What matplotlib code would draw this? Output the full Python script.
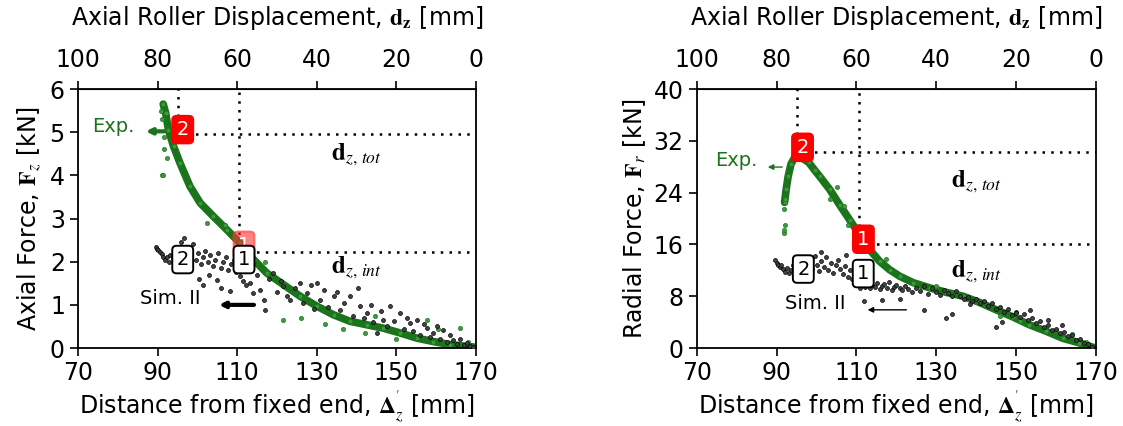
import matplotlib
matplotlib.use("Agg")
import matplotlib.pyplot as plt

plt.rcParams['mathtext.fontset'] = 'stix'
plt.rcParams['font.family'] = 'DejaVu Sans'

# ---- data ----
# left panel: axial force
exp_ax_dist = [91.4, 92.0, 92.7, 94.0, 95.6, 98.1, 100.7, 104.0, 107.4, 110.7, 114.1,
               117.4, 121.6, 125.8, 130.0, 134.2, 138.3, 142.5, 146.7, 150.9, 155.1,
               159.3, 163.5, 169.7]
exp_ax_force = [5.65, 5.45, 5.06, 4.67, 4.29, 3.75, 3.36, 3.05, 2.74, 2.43, 2.05,
                1.74, 1.47, 1.20, 0.97, 0.77, 0.62, 0.54, 0.46, 0.35, 0.23,
                0.15, 0.08, 0.02]
exp_ax_out_dist = [91.0, 91.3, 91.5, 91.7, 91.2, 90.9, 92.3, 102.5, 106.8, 117.0, 121.6,
                   126.0, 132.0, 142.0, 150.0, 157.6, 160.5, 166.0, 168.0, 144.5, 136.5]
exp_ax_out_force = [4.00, 4.02, 4.60, 4.90, 5.30, 5.50, 4.40, 2.90, 2.85, 2.00, 0.66,
                    0.70, 0.55, 0.35, 0.20, 0.66, 0.45, 0.46, 0.15, 0.75, 0.45]
sim_ax_dist = [89.5, 89.8, 90.2, 90.6, 91.0, 91.4, 91.8, 92.3, 92.8, 93.2, 93.8, 94.3,
               95.0, 95.8, 96.5, 97.2, 97.8, 98.4, 99.0, 99.6, 100.2, 100.8, 101.4,
               102.0, 102.6, 103.2, 103.8, 104.5, 105.2, 105.8, 106.5, 107.2, 107.8,
               108.5, 109.2, 109.8, 100.5, 101.5, 103.0, 104.8, 106.0, 108.2, 110.7,
               111.5, 112.3, 113.2, 114.0, 115.0, 115.8, 116.6, 117.0, 118.0, 119.1,
               120.0, 121.0, 121.6, 122.5, 123.3, 124.5, 125.8, 126.5, 127.5, 128.5,
               129.3, 130.0, 130.8, 131.8, 132.8, 134.2, 135.0, 135.8, 136.8, 138.3,
               139.2, 140.4, 140.9, 141.8, 142.5, 143.5, 144.2, 145.0, 146.0, 146.7,
               147.6, 148.4, 149.5, 150.9, 151.8, 152.6, 153.4, 154.2, 155.1, 156.0,
               156.8, 157.6, 158.5, 159.3, 160.2, 161.0, 161.8, 162.8, 163.5, 164.3,
               165.2, 166.0, 167.0, 167.7, 168.5, 169.3]
sim_ax_force = [2.35, 2.30, 2.28, 2.22, 2.18, 2.12, 2.05, 2.10, 2.00, 2.15, 2.08, 2.20,
                2.30, 2.45, 2.55, 2.25, 2.35, 2.15, 2.40, 2.05, 2.20, 1.95, 2.10,
                2.25, 2.00, 2.15, 1.90, 2.05, 2.20, 1.85, 2.00, 2.10, 1.80,
                1.95, 2.05, 1.75, 1.60, 1.45, 1.70, 1.58, 1.40, 1.31, 1.66,
                1.55, 1.45, 1.50, 1.27, 1.70, 1.35, 1.12, 0.89, 1.60, 1.74,
                1.30, 1.55, 1.43, 1.20, 1.12, 1.40, 1.50, 1.05, 1.27, 1.45,
                0.90, 1.50, 1.12, 1.35, 0.95, 1.20, 1.30, 0.89, 1.05, 1.20,
                0.75, 1.39, 0.97, 0.70, 0.81, 1.00, 0.60, 0.35, 0.85, 0.66,
                0.50, 0.97, 0.62, 0.81, 0.45, 0.70, 0.58, 0.40, 0.66, 0.30,
                0.55, 0.46, 0.25, 0.35, 0.52, 0.20, 0.42, 0.15, 0.30, 0.19,
                0.10, 0.22, 0.08, 0.12, 0.04, 0.03]

# right panel: radial force
exp_rad_dist = [92.0, 92.4, 92.9, 93.6, 94.5, 95.5, 96.7, 98.0, 99.5, 100.8, 103.3,
                105.8, 108.3, 110.8, 113.3, 115.8, 118.3, 120.8, 124.2, 128.3, 132.5,
                136.7, 140.8, 145.0, 149.2, 153.3, 157.5, 161.7, 165.8, 169.8]
exp_rad_force = [22.5, 24.5, 26.5, 28.4, 29.4, 29.6, 29.2, 28.7, 27.5, 26.5, 24.5,
                 22.1, 19.8, 17.5, 15.2, 13.4, 12.1, 11.1, 10.1, 9.3, 8.6,
                 8.0, 7.05, 5.9, 4.8, 3.6, 2.6, 1.5, 0.8, 0.0]
exp_rad_out_dist = [91.8, 91.9, 92.1, 91.9, 92.2, 103.5, 105.2, 107.0, 108.0, 117.5,
                    146.0, 160.0, 164.0, 167.5, 130.0, 151.0]
exp_rad_out_force = [17.8, 18.2, 19.0, 21.5, 23.0, 23.0, 24.8, 22.0, 19.0, 13.8,
                     5.0, 2.8, 2.1, 1.0, 9.6, 4.2]
sim_rad_dist = [89.6, 90.0, 90.4, 90.8, 91.2, 91.6, 92.0, 92.5, 93.0, 93.5, 94.0, 94.6,
                95.2, 95.8, 96.5, 97.0, 97.6, 98.2, 98.8, 99.5, 100.0, 100.6, 101.2,
                101.8, 102.4, 103.0, 103.6, 104.2, 104.8, 105.5, 106.0, 106.6, 107.2,
                107.8, 108.4, 109.0, 109.8, 110.5, 111.0, 111.6, 112.2, 112.8, 113.4,
                114.0, 114.6, 115.2, 115.8, 116.4, 117.0, 117.6, 118.2, 118.8, 119.4,
                120.0, 120.8, 121.5, 122.2, 123.0, 124.0, 125.0, 126.0, 127.0, 128.0,
                129.0, 130.0, 131.0, 132.0, 133.0, 134.0, 135.0, 136.0, 137.0, 138.0,
                139.0, 140.0, 141.0, 142.0, 143.0, 144.0, 145.0, 146.0, 147.0, 148.0,
                149.0, 150.0, 151.0, 152.0, 153.0, 154.0, 155.0, 156.0, 157.0, 158.0,
                159.0, 160.0, 161.0, 162.0, 163.0, 164.0, 165.0, 166.0, 167.0, 168.0,
                169.0, 112.0, 116.5, 121.0, 127.0, 132.5, 134.0, 138.5, 145.0, 150.0,
                153.5, 158.0, 161.5, 146.5, 101.0, 107.5]
sim_rad_force = [13.6, 13.2, 12.9, 12.5, 12.8, 12.2, 11.8, 12.4, 11.6, 12.0, 12.8, 13.5,
                 11.9, 12.6, 13.9, 12.3, 11.4, 13.0, 12.2, 14.2, 12.8, 11.9, 13.4,
                 12.5, 14.0, 12.0, 13.2, 11.6, 12.9, 13.6, 12.2, 11.4, 12.7,
                 11.0, 12.0, 10.6, 10.2, 9.8, 9.3, 9.9, 9.5, 10.1, 9.2,
                 9.7, 9.4, 10.0, 9.1, 9.6, 9.9, 9.3, 10.2, 9.0, 9.5,
                 9.8, 9.2, 8.9, 9.6, 9.1, 8.6, 9.2, 8.8, 9.6, 8.4,
                 9.3, 8.7, 8.2, 9.0, 8.5, 8.0, 8.8, 8.1, 7.6, 7.9,
                 7.2, 7.6, 6.9, 7.3, 6.5, 6.9, 6.0, 6.4, 5.6, 6.0,
                 5.1, 5.5, 4.8, 5.2, 4.3, 4.6, 3.9, 4.2, 3.3, 3.6,
                 2.8, 3.0, 2.3, 2.5, 1.8, 2.0, 1.3, 1.4, 0.8, 0.6,
                 0.2, 7.2, 7.4, 7.6, 5.9, 4.6, 5.3, 6.8, 3.3, 5.4,
                 5.8, 4.4, 3.6, 4.0, 14.8, 14.4]

dist_ticks = [70, 90, 110, 130, 150, 170]
disp_ticks = [100, 80, 60, 40, 20, 0]

exp_green = '#1b741b'
FS = 17


def draw_panel(ax, ed, ef, eod, eof, sd, sf, yticks, ylabel, guides, boxes, labels, thick):
    ax.plot(ed, ef, color=exp_green, lw=5.5, solid_capstyle='round', zorder=2)
    ax.scatter(ed, ef, s=10, color='#3c9a3c', edgecolors=exp_green, lw=0.4, zorder=2)
    ax.scatter(eod, eof, s=10, color='#3c9a3c', edgecolors=exp_green, lw=0.4, zorder=2)
    ax.scatter(sd, sf, s=8, color='#444444', edgecolors='black', lw=0.5, zorder=3)

    # guide lines
    (x2, y2), (x1, y1), ytop = guides
    dots = dict(ls=(0, (1, 2.5)), color='black', lw=1.8, zorder=1)
    ax.plot([x2, x2], [y2, ytop], **dots)
    ax.plot([x1, x1], [y1, ytop], **dots)
    ax.plot([x2, 170], [y2, y2], **dots)
    ax.plot([x1, 170], [y1, y1], **dots)

    for (bx, by, txt, fc, tc, ec, a) in boxes:
        ax.text(bx, by, txt, ha='center', va='center', fontsize=14, color=tc, zorder=5,
                bbox=dict(boxstyle='round,pad=0.22', fc=fc, ec=ec, lw=1.4, alpha=a))

    (ex, ey), exp_arrow, (sx, sy), sim_arrow, (tx, tty), (ix, iy) = labels
    ax.text(ex, ey, 'Exp.', color=exp_green, fontsize=14, ha='center', va='center')
    x0, x1a, ya = exp_arrow
    ax.annotate('', xy=(x1a, ya), xytext=(x0, ya),
                arrowprops=dict(arrowstyle='-|>', color=exp_green, lw=thick, mutation_scale=8))
    ax.text(sx, sy, 'Sim. II', color='black', fontsize=14, ha='center', va='center')
    x0, x1a, ya = sim_arrow
    ax.annotate('', xy=(x1a, ya), xytext=(x0, ya),
                arrowprops=dict(arrowstyle='-|>', color='black', lw=thick, mutation_scale=8))
    ax.text(tx, tty, r'$\mathbf{d}_{z,\,tot}$', fontsize=18, ha='center', va='center')
    ax.text(ix, iy, r'$\mathbf{d}_{z,\,int}$', fontsize=18, ha='center', va='center')

    ax.set_xlim(70, 170)
    ax.set_ylim(yticks[0], yticks[-1])
    ax.set_xticks(dist_ticks)
    ax.set_yticks(yticks)
    ax.tick_params(labelsize=FS, length=6, width=1.2)
    for s in ax.spines.values():
        s.set_linewidth(1.3)
    ax.set_xlabel(r"Distance from fixed end, $\mathbf{\Delta}^{'}_{z}$ [mm]", fontsize=FS,
                  labelpad=2)
    ax.set_ylabel(ylabel, fontsize=FS)

    top = ax.secondary_xaxis('top', functions=(lambda x: 170 - x, lambda d: 170 - d))
    top.set_xticks(disp_ticks)
    top.tick_params(labelsize=FS, length=6, width=1.2, pad=6.5)
    top.set_xlabel(r'Axial Roller Displacement, $\mathbf{d_z}$ [mm]', fontsize=FS, labelpad=16)


fig = plt.figure(figsize=(11.23, 4.26), dpi=100)
ax1 = fig.add_axes([0.0695, 0.183, 0.3544, 0.608])
ax2 = fig.add_axes([0.6204, 0.183, 0.3556, 0.608])

draw_panel(ax1, exp_ax_dist, exp_ax_force, exp_ax_out_dist, exp_ax_out_force,
           sim_ax_dist, sim_ax_force, [0, 1, 2, 3, 4, 5, 6],
           r'Axial Force, $\mathbf{F}_z$ [kN]',
           ((95.2, 4.95), (110.5, 2.22), 6),
           [(96.3, 5.06, '2', 'red', 'white', 'red', 1.0),
            (111.7, 2.38, '1', '#ff3333', 'white', '#ff3333', 0.6),
            (96.3, 2.05, '2', 'white', 'black', 'black', 1.0),
            (111.7, 2.05, '1', 'white', 'black', 'black', 1.0)],
           ((78.8, 5.13), (92.4, 86.3, 5.02), (93.1, 1.14), (114.9, 104.7, 1.0),
            (140, 4.48), (140, 1.85)),
           3)

draw_panel(ax2, exp_rad_dist, exp_rad_force, exp_rad_out_dist, exp_rad_out_force,
           sim_rad_dist, sim_rad_force, [0, 8, 16, 24, 32, 40],
           r'Radial Force, $\mathbf{F}_r$ [kN]',
           ((95.2, 30.3), (110.6, 16.1), 40),
           [(96.5, 31.0, '2', 'red', 'white', 'red', 1.0),
            (111.75, 16.8, '1', 'red', 'white', 'red', 1.0),
            (96.7, 12.2, '2', 'white', 'black', 'black', 1.0),
            (111.7, 11.5, '1', 'white', 'black', 'black', 1.0)],
           ((80.0, 28.9), (92.1, 87.1, 27.95), (99.6, 6.95), (123.2, 112.1, 5.9),
            (140, 25.7), (140, 11.8)),
           1)

fig.savefig('out.png', dpi=100)
